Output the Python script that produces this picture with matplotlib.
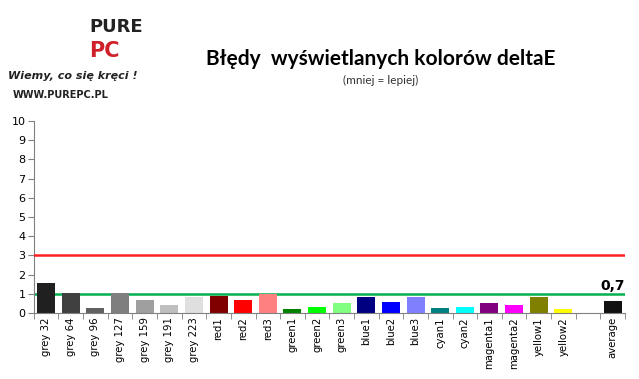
import matplotlib
matplotlib.use("Agg")
import numpy as np
import matplotlib.pyplot as plt

# data
labels = ["grey 32", "grey 64", "grey 96", "grey 127", "grey 159", "grey 191",
          "grey 223", "red1", "red2", "red3", "green1", "green2", "green3",
          "blue1", "blue2", "blue3", "cyan1", "cyan2", "magenta1", "magenta2",
          "yellow1", "yellow2", "", "average"]
values = [1.57, 1.05, 0.28, 1.02, 0.69, 0.43, 0.84, 0.90, 0.69, 0.97, 0.22,
          0.33, 0.53, 0.84, 0.59, 0.84, 0.28, 0.33, 0.53, 0.43, 0.84, 0.22,
          0.0, 0.64]
colors = ["#202020", "#404040", "#606060", "#7f7f7f", "#9f9f9f", "#bfbfbf",
          "#dfdfdf", "#800000", "#ff0000", "#ff8080", "#008000", "#00ff00",
          "#80ff80", "#000080", "#0000ff", "#8080ff", "#008080", "#00ffff",
          "#800080", "#ff00ff", "#808000", "#ffff00", "#ffffff", "#111111"]
avg_label = "0,7"
limit_red = 3
limit_green = 1

fig = plt.figure(figsize=(6.39, 3.79), dpi=100)
ax = fig.add_axes([0.053, 0.174, 0.925, 0.507])

x = np.arange(len(labels))
ax.bar(x, values, width=0.73, color=colors, zorder=2)
ax.axhline(limit_red, color="#ff2020", lw=1.8, zorder=3)
ax.axhline(limit_green, color="#00b050", lw=1.8, zorder=1)
ax.text(x[-1], values[-1] + 0.42, avg_label, ha="center", va="bottom",
        fontsize=10, fontweight="bold")

ax.set_xlim(-0.5, len(labels) - 0.5)
ax.set_ylim(0, 10)
ax.set_yticks(range(0, 11))
ax.set_xticks(x)
ax.set_xticklabels(labels, rotation=90, fontsize=7.3)
ax.set_xticks(np.arange(-0.5, len(labels)), minor=True)
ax.tick_params(axis="x", which="major", length=0, pad=3)
ax.tick_params(axis="x", which="minor", length=4, color="#808080")
ax.tick_params(axis="y", length=4, color="#808080", labelsize=8, pad=2)
for s in ["top", "right"]:
    ax.spines[s].set_visible(False)
for s in ["left", "bottom"]:
    ax.spines[s].set_color("#808080")

fig.text(0.595, 0.845, "Błędy  wyświetlanych kolorów deltaE", ha="center",
         va="center", fontsize=15, fontweight="bold", family="Lato")
fig.text(0.595, 0.787, "(mniej = lepiej)", ha="center", va="center",
         fontsize=8.5, family="Lato", color="#333333")

# rough logo
fig.text(0.14, 0.93, "PURE", fontsize=13, fontweight="bold", color="#222222",
         ha="left", va="center")
fig.text(0.14, 0.865, "PC", fontsize=15, fontweight="bold", color="#d0202a",
         ha="left", va="center")
fig.text(0.012, 0.80, "Wiemy, co się kręci !", fontsize=8, style="italic",
         fontweight="bold", color="#222222", ha="left", va="center")
fig.text(0.02, 0.75, "WWW.PUREPC.PL", fontsize=7, fontweight="bold",
         color="#222222", ha="left", va="center")

fig.savefig("out.png", dpi=100)
